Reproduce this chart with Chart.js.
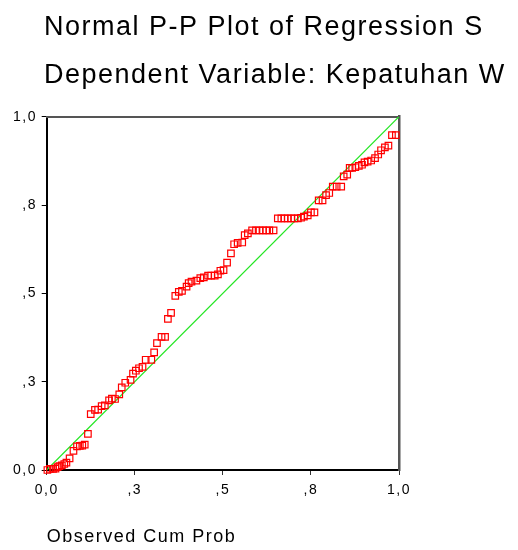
<!DOCTYPE html>
<html>
<head>
<meta charset="utf-8">
<script src="https://cdn.jsdelivr.net/npm/chart.js@4/dist/chart.umd.min.js"></script>
<style>
  html, body { margin: 0; padding: 0; background: #ffffff; }
  #wrap { width: 518px; height: 550px; }
</style>
</head>
<body>
<div id="wrap"><canvas id="c" width="518" height="550"></canvas></div>
<script>
const titleLines = ["Normal P-P Plot of Regression S", "Dependent Variable: Kepatuhan W"];
const xAxisTitle = "Observed Cum Prob";
const tickValues = [0, 0.25, 0.5, 0.75, 1];
const tickLabels = ["0,0", ",3", ",5", ",8", "1,0"];

const observedCumProb = [
  0.002,0.009,0.018,0.025,0.031,0.036,0.043,0.050,0.056,0.065,
  0.076,0.086,0.094,0.101,0.108,0.117,0.125,0.137,0.146,0.156,
  0.165,0.177,0.185,0.194,0.206,0.213,0.223,0.238,0.245,0.253,
  0.262,0.272,0.281,0.297,0.305,0.313,0.326,0.336,0.344,0.353,
  0.365,0.375,0.384,0.397,0.403,0.411,0.425,0.436,0.446,0.458,
  0.467,0.477,0.486,0.493,0.502,0.512,0.523,0.532,0.542,0.555,
  0.562,0.571,0.583,0.594,0.604,0.614,0.623,0.632,0.644,0.656,
  0.666,0.675,0.684,0.694,0.703,0.713,0.722,0.730,0.741,0.750,
  0.760,0.772,0.783,0.793,0.802,0.812,0.823,0.836,0.843,0.853,
  0.860,0.867,0.876,0.886,0.895,0.902,0.911,0.921,0.932,0.941,
  0.949,0.960,0.970,0.980,0.991
];
const expectedCumProb = [
  0.000,0.003,0.003,0.004,0.008,0.011,0.013,0.017,0.021,0.033,
  0.054,0.067,0.068,0.069,0.072,0.102,0.158,0.170,0.171,0.181,
  0.183,0.197,0.202,0.201,0.214,0.234,0.247,0.255,0.273,0.281,
  0.288,0.292,0.312,0.312,0.333,0.359,0.377,0.377,0.428,0.445,
  0.493,0.504,0.507,0.519,0.529,0.533,0.536,0.543,0.545,0.550,
  0.550,0.550,0.554,0.564,0.566,0.587,0.613,0.639,0.643,0.644,
  0.665,0.670,0.678,0.678,0.678,0.678,0.678,0.678,0.678,0.712,
  0.712,0.712,0.712,0.712,0.712,0.712,0.714,0.717,0.721,0.729,
  0.729,0.763,0.763,0.778,0.784,0.802,0.802,0.802,0.831,0.836,
  0.855,0.855,0.857,0.861,0.864,0.871,0.873,0.876,0.883,0.893,
  0.905,0.913,0.918,0.948,0.948
];
const refLineX = [0, 1];
const refLineY = [0, 1];

const FONT = "'Liberation Sans', Arial, sans-serif";

const spacingPlugin = {
  id: 'spacing',
  beforeDraw(chart) {
    const ctx = chart.ctx;
    if ('letterSpacing' in ctx) ctx.letterSpacing = '1.5px';
  }
};

const bgPlugin = {
  id: 'bg',
  beforeDraw(chart) {
    const ctx = chart.ctx;
    ctx.save();
    ctx.fillStyle = '#ffffff';
    ctx.fillRect(0, 0, chart.width, chart.height);
    ctx.restore();
  }
};

const setTicks = (scale) => { scale.ticks = tickValues.map(v => ({ value: v })); };
const tickText = (v) => { const i = tickValues.indexOf(v); return i >= 0 ? tickLabels[i] : ''; };

new Chart(document.getElementById('c'), {
  type: 'scatter',
  data: {
    datasets: [
      {
        label: 'Observed',
        data: observedCumProb.map((x, i) => ({ x: x, y: expectedCumProb[i] })),
        pointStyle: 'rect',
        pointRadius: 4.6,
        pointHoverRadius: 4.6,
        borderColor: '#ff0000',
        backgroundColor: 'rgba(0,0,0,0)',
        pointBorderWidth: 1.2,
        borderWidth: 1.2,
        showLine: false,
        clip: false,
        order: 0
      },
      {
        label: 'Reference',
        type: 'line',
        data: refLineX.map((x, i) => ({ x: x, y: refLineY[i] })),
        borderColor: '#22e622',
        borderWidth: 1.2,
        pointRadius: 0,
        fill: false,
        order: 1
      }
    ]
  },
  options: {
    responsive: false,
    animation: false,
    events: [],
    layout: { padding: { left: 44, right: 0, top: 0, bottom: 0 } },
    plugins: {
      legend: { display: false },
      tooltip: { enabled: false },
      title: {
        display: true,
        text: titleLines,
        align: 'start',
        color: '#000000',
        font: { family: FONT, size: 27, weight: 'normal', lineHeight: 1.778 },
        padding: { top: 3.4, bottom: 17.3 }
      }
    },
    scales: {
      x: {
        type: 'linear',
        position: 'bottom',
        min: 0, max: 1,
        afterBuildTicks: setTicks,
        afterFit: (s) => { s.height = 80; },
        ticks: {
          autoSkip: false,
          maxRotation: 0,
          padding: 7,
          color: '#000000',
          font: { family: FONT, size: 14 },
          callback: tickText
        },
        grid: { drawOnChartArea: false, drawTicks: true, tickLength: 5, color: '#000000', tickColor: '#333333' },
        border: { display: true, color: '#000000', width: 2 },
        title: {
          display: true,
          text: xAxisTitle,
          align: 'start',
          color: '#000000',
          font: { family: FONT, size: 18, weight: 'normal' },
          padding: { top: 0, bottom: 1.7 }
        }
      },
      y: {
        type: 'linear',
        position: 'left',
        min: 0, max: 1,
        afterBuildTicks: setTicks,
        afterFit: (s) => { s.width = 2.7; },
        ticks: {
          autoSkip: false,
          mirror: true,
          crossAlign: 'far',
          padding: -29.2,
          color: '#000000',
          font: { family: FONT, size: 14 },
          callback: tickText
        },
        grid: { drawOnChartArea: false, drawTicks: true, tickLength: 5, color: '#000000', tickColor: '#000000' },
        border: { display: true, color: '#000000', width: 2 }
      },
      x2: {
        type: 'linear',
        position: 'top',
        min: 0, max: 1,
        afterFit: (s) => { s.height = 0; },
        ticks: { display: false },
        grid: { drawOnChartArea: false, drawTicks: false },
        border: { display: true, color: '#555555', width: 2 }
      },
      y2: {
        type: 'linear',
        position: 'right',
        min: 0, max: 1,
        afterFit: (s) => { s.width = 119; },
        ticks: { display: false },
        grid: { drawOnChartArea: false, drawTicks: false },
        border: { display: true, color: '#555555', width: 2.5 }
      }
    }
  },
  plugins: [bgPlugin, spacingPlugin]
});
</script>
</body>
</html>
